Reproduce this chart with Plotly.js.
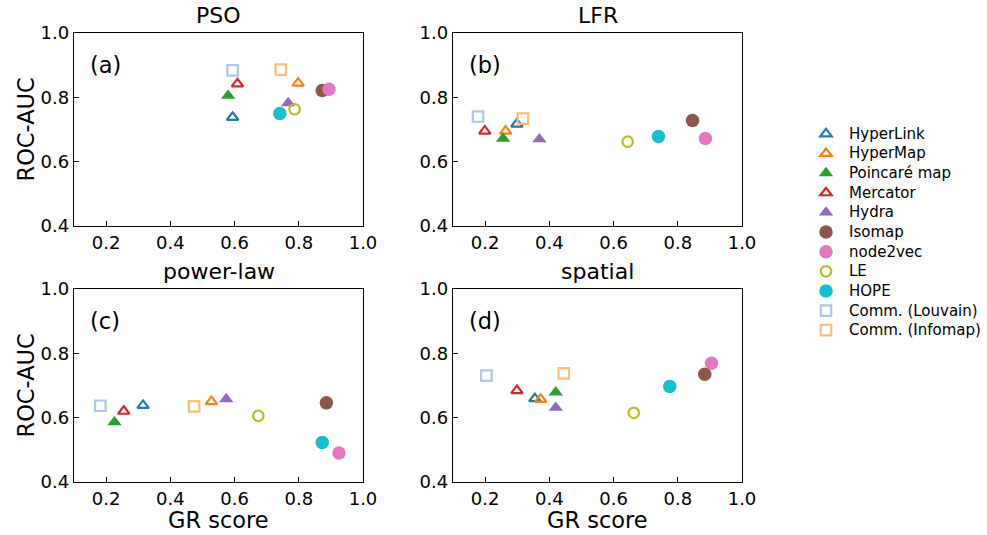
<!DOCTYPE html>
<html>
<head>
<meta charset="utf-8">
<script src="https://cdn.plot.ly/plotly-3.0.1.min.js"></script>
<style>html,body{margin:0;padding:0;background:#fff;}#chart{width:987px;height:535px;}</style>
</head>
<body>
<div id="chart"></div>
<script>
// ---- data ----
const methods = ["HyperLink", "HyperMap", "Poincaré map", "Mercator", "Hydra", "Isomap", "node2vec", "LE", "HOPE", "Comm. (Louvain)", "Comm. (Infomap)"];
const panelTitles = ["PSO", "LFR", "power-law", "spatial"];
const panelLabels = ["(a)", "(b)", "(c)", "(d)"];

const psoGR  = [0.594, 0.798, 0.580, 0.609, 0.767, 0.873, 0.894, 0.787, 0.741, 0.594, 0.744];
const psoAUC = [0.738, 0.844, 0.805, 0.842, 0.782, 0.821, 0.825, 0.763, 0.750, 0.884, 0.886];

const lfrGR  = [0.299, 0.264, 0.256, 0.199, 0.369, 0.846, 0.886, 0.644, 0.740, 0.178, 0.318];
const lfrAUC = [0.717, 0.695, 0.672, 0.695, 0.670, 0.728, 0.672, 0.662, 0.678, 0.740, 0.734];

const plGR   = [0.315, 0.528, 0.226, 0.255, 0.574, 0.886, 0.925, 0.674, 0.873, 0.182, 0.474];
const plAUC  = [0.638, 0.650, 0.586, 0.620, 0.658, 0.646, 0.490, 0.606, 0.523, 0.637, 0.635];

const spGR   = [0.355, 0.373, 0.420, 0.299, 0.420, 0.884, 0.905, 0.663, 0.775, 0.204, 0.445];
const spAUC  = [0.659, 0.657, 0.679, 0.684, 0.631, 0.735, 0.769, 0.615, 0.697, 0.731, 0.738];

const xTicks = [0.2, 0.4, 0.6, 0.8, 1.0];
const yTicks = [0.4, 0.6, 0.8, 1.0];

// ---- styles ----
const colors = ["#1f77b4", "#ff7f0e", "#2ca02c", "#d62728", "#9467bd", "#8c564b", "#e377c2", "#bcbd22", "#17becf", "#aec7e8", "#ffbb78"];
const symbols = ["triangle-up-open", "triangle-up-open", "triangle-up", "triangle-up-open", "triangle-up", "circle", "circle", "circle-open", "circle", "square-open", "square-open"];
const sizes = [10, 10, 12.5, 10, 12.5, 13.5, 13.5, 10.5, 13.5, 10.5, 10.5];

const panelsGR = [psoGR, lfrGR, plGR, spGR];
const panelsAUC = [psoAUC, lfrAUC, plAUC, spAUC];

const W = 987, H = 535;
const xDom = [[74 / W, 363 / W], [453 / W, 742 / W], [74 / W, 363 / W], [453 / W, 742 / W]];
const yDom = [[1 - 226 / H, 1 - 33 / H], [1 - 226 / H, 1 - 33 / H], [1 - 482 / H, 1 - 289 / H], [1 - 482 / H, 1 - 289 / H]];

const traces = [];
for (let p = 0; p < 4; p++) {
  const ax = p === 0 ? "" : String(p + 1);
  for (let i = 0; i < methods.length; i++) {
    const open = symbols[i].endsWith("-open");
    traces.push({
      type: "scatter", mode: "markers",
      x: [panelsGR[p][i]], y: [panelsAUC[p][i]],
      xaxis: "x" + ax, yaxis: "y" + ax,
      name: '<span style="font-size:15px">' + methods[i] + '</span>',
      legendgroup: methods[i], showlegend: p === 0,
      marker: {
        symbol: symbols[i], size: sizes[i], color: colors[i],
        line: {width: open ? 2.2 : 0, color: colors[i]}
      },
      hoverinfo: "skip"
    });
  }
}

const fontFam = "DejaVu Sans, sans-serif";
const layout = {
  width: W, height: H,
  margin: {l: 0, r: 0, t: 0, b: 0},
  paper_bgcolor: "#fff", plot_bgcolor: "#fff",
  font: {family: fontFam, color: "#000"},
  showlegend: true,
  legend: {
    x: 803 / W, y: 1 - 119 / H, xanchor: "left", yanchor: "top",
    font: {size: 12.8, family: fontFam, color: "#000"},
    bgcolor: "rgba(0,0,0,0)", borderwidth: 0, tracegroupgap: 0, itemsizing: "trace", itemwidth: 36
  },
  annotations: []
};

for (let p = 0; p < 4; p++) {
  const ax = p === 0 ? "" : String(p + 1);
  const common = {
    showline: true, mirror: true, linecolor: "#000", linewidth: 1.2,
    ticks: "inside", ticklen: 5, tickwidth: 1.2, tickcolor: "#000",
    showgrid: false, zeroline: false, automargin: false,
    tickfont: {size: 18, family: fontFam, color: "#000"}
  };
  layout["xaxis" + ax] = Object.assign({}, common, {
    domain: xDom[p], range: [0.1, 1.0], tickvals: xTicks, ticktext: xTicks.map(v => v.toFixed(1)),
    anchor: "y" + ax
  });
  layout["yaxis" + ax] = Object.assign({}, common, {
    domain: yDom[p], range: [0.4, 1.0], tickvals: yTicks, ticktext: yTicks.map(v => v.toFixed(1)),
    anchor: "x" + ax
  });
  const cx = (xDom[p][0] + xDom[p][1]) / 2;
  layout.annotations.push({
    text: panelTitles[p], xref: "paper", yref: "paper", x: cx, y: yDom[p][1] + 18 / H,
    xanchor: "center", yanchor: "middle", showarrow: false, font: {size: 22, family: fontFam, color: "#000"}
  });
  layout.annotations.push({
    text: panelLabels[p], xref: "paper", yref: "paper", x: xDom[p][0] + 14 / W, y: yDom[p][1] - 32 / H,
    xanchor: "left", yanchor: "middle", showarrow: false, font: {size: 22.5, family: fontFam, color: "#000"}
  });
  if (p % 2 === 0) {
    layout.annotations.push({
      text: "ROC-AUC", xref: "paper", yref: "paper", x: 25 / W, y: (yDom[p][0] + yDom[p][1]) / 2,
      xanchor: "center", yanchor: "middle", textangle: -90, showarrow: false,
      font: {size: 22.5, family: fontFam, color: "#000"}
    });
  }
  if (p >= 2) {
    layout.annotations.push({
      text: "GR score", xref: "paper", yref: "paper", x: cx, y: 1 - 520 / H,
      xanchor: "center", yanchor: "middle", showarrow: false,
      font: {size: 22.5, family: fontFam, color: "#000"}
    });
  }
}

Plotly.newPlot("chart", traces, layout, {displayModeBar: false, staticPlot: true});
</script>
</body>
</html>
